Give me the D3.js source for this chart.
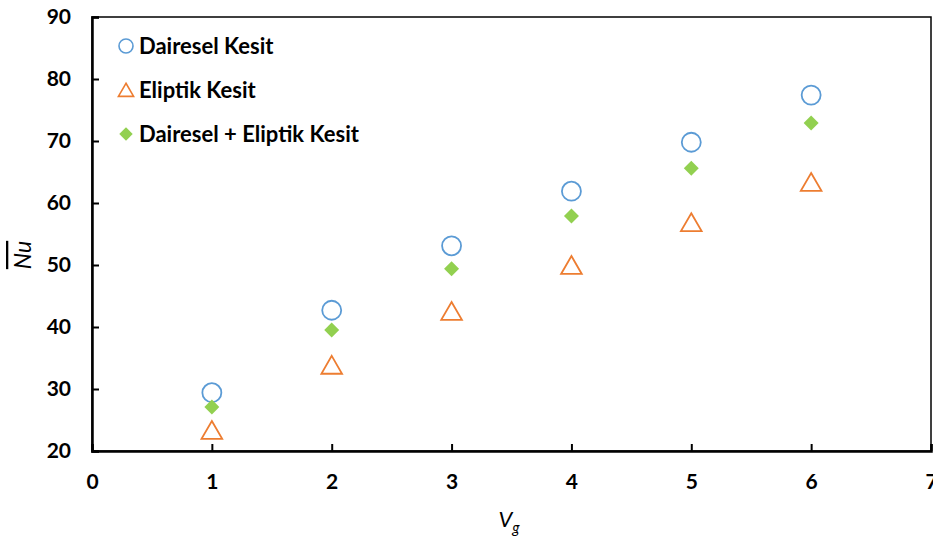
<!DOCTYPE html>
<html>
<head>
<meta charset="utf-8">
<script src="https://cdn.jsdelivr.net/npm/d3@7"></script>
<style>
  body { margin: 0; background: #fff; }
  svg { display: block; font-family: Lato, "Open Sans", sans-serif; font-weight: bold; }
</style>
</head>
<body>
<svg id="chart" width="933" height="538"></svg>
<script>
// Average Nusselt number vs. Vg for three cross-section types
const vg = [1, 2, 3, 4, 5, 6];
const dairesel = [29.4, 42.7, 53.1, 61.9, 69.8, 77.4];
const eliptik = [23.4, 33.9, 42.6, 50.0, 56.9, 63.4];
const karma = [27.1, 39.5, 49.4, 57.9, 65.6, 72.9];
const xTicks = [0, 1, 2, 3, 4, 5, 6, 7];
const yTicks = [20, 30, 40, 50, 60, 70, 80, 90];
const seriesNames = ["Dairesel Kesit", "Eliptik Kesit", "Dairesel + Eliptik Kesit"];

const svg = d3.select("#chart");
const x = d3.scaleLinear().domain([0, 7]).range([92, 931]);
const y = d3.scaleLinear().domain([20, 90]).range([451, 17]);

// plot frame
svg.append("rect")
  .attr("x", x(0)).attr("y", y(90))
  .attr("width", x(7) - x(0)).attr("height", y(20) - y(90))
  .attr("fill", "none").attr("stroke", "#000").attr("stroke-width", 1.5);

// axes with inward ticks
const xAxis = d3.axisBottom(x).tickValues(xTicks).tickSize(-7).tickPadding(23).tickFormat(d3.format("d"));
const gx = svg.append("g").attr("transform", `translate(0,${y(20)})`).call(xAxis);
const yAxis = d3.axisLeft(y).tickValues(yTicks).tickSize(-7).tickPadding(21).tickFormat(d3.format("d"));
const gy = svg.append("g").attr("transform", `translate(${x(0)},0)`).call(yAxis);
[gx, gy].forEach(g => {
  g.select(".domain").attr("stroke", "#000").attr("stroke-width", 2.5);
  g.selectAll(".tick line").attr("stroke", "#000").attr("stroke-width", 2);
  g.selectAll(".tick text").attr("fill", "#000").style("font-size", "21px")
    .style("font-family", "Lato, sans-serif").style("font-weight", "bold");
});

// axis titles
const xt = svg.append("text").attr("x", 509).attr("y", 527).attr("text-anchor", "middle")
  .style("font-size", "22px").style("font-weight", "normal").style("font-style", "italic");
xt.append("tspan").text("V");
xt.append("tspan").attr("dy", 6).style("font-size", "15px").text("g");

svg.append("text")
  .attr("transform", "translate(31,255) rotate(-90)")
  .attr("text-anchor", "middle")
  .style("font-size", "23px").style("font-weight", "normal").style("font-style", "italic")
  .style("text-decoration", "overline")
  .text("Nu");

// markers
const circleColor = "#5B9BD5", triColor = "#ED7D31", diaColor = "#92D050";
const triSize = 185;
const tri = d3.symbol().type(d3.symbolTriangle).size(triSize);
// d3 centres the triangle on its centroid; shift so its bounding box is centred on the value
const triShift = Math.sqrt(triSize / (3 * Math.sqrt(3))) / 2;
const dia = d3.symbol().type(d3.symbolSquare).size(112);

svg.append("g").selectAll("circle").data(vg).join("circle")
  .attr("cx", d => x(d)).attr("cy", (d, i) => y(dairesel[i])).attr("r", 9.5)
  .attr("fill", "none").attr("stroke", circleColor).attr("stroke-width", 1.8);

svg.append("g").selectAll("path").data(vg).join("path")
  .attr("d", tri)
  .attr("transform", (d, i) => `translate(${x(d)},${y(eliptik[i]) + triShift})`)
  .attr("fill", "none").attr("stroke", triColor).attr("stroke-width", 1.8);

svg.append("g").selectAll("path").data(vg).join("path")
  .attr("d", dia)
  .attr("transform", (d, i) => `translate(${x(d)},${y(karma[i])}) rotate(45)`)
  .attr("fill", diaColor);

// legend
const legend = svg.append("g");
const rows = [46, 90, 134];
legend.append("circle").attr("cx", 126).attr("cy", rows[0]).attr("r", 7)
  .attr("fill", "none").attr("stroke", circleColor).attr("stroke-width", 1.6);
legend.append("path").attr("d", d3.symbol().type(d3.symbolTriangle).size(100))
  .attr("transform", `translate(126,${rows[1] + 2})`)
  .attr("fill", "none").attr("stroke", triColor).attr("stroke-width", 1.6);
legend.append("path").attr("d", d3.symbol().type(d3.symbolSquare).size(90))
  .attr("transform", `translate(126,${rows[2]}) rotate(45)`).attr("fill", diaColor);
legend.selectAll("text").data(seriesNames).join("text")
  .attr("x", 139).attr("y", (d, i) => rows[i] + 8)
  .style("font-size", "22px").attr("fill", "#000")
  .text(d => d);
</script>
</body>
</html>
